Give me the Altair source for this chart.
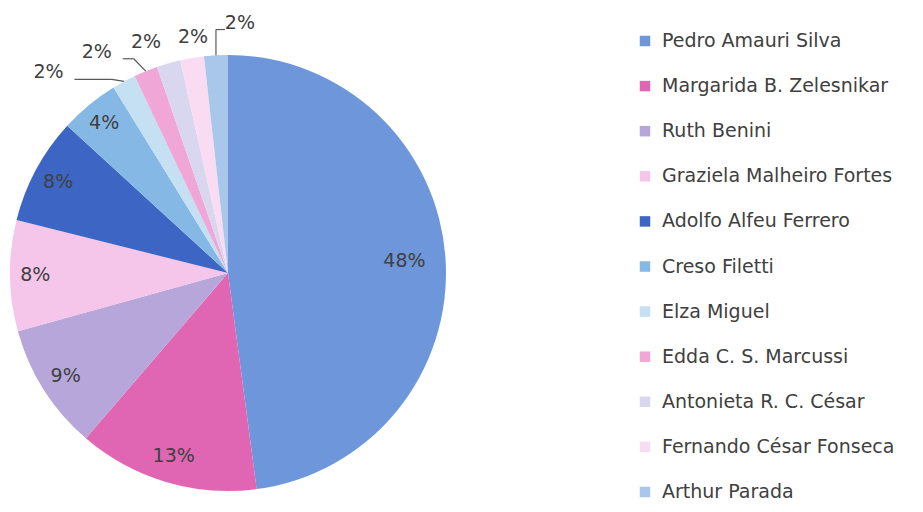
import altair as alt
import pandas as pd

names = [
    "Pedro Amauri Silva",
    "Margarida B. Zelesnikar",
    "Ruth Benini",
    "Graziela Malheiro Fortes",
    "Adolfo Alfeu Ferrero",
    "Creso Filetti",
    "Elza Miguel",
    "Edda C. S. Marcussi",
    "Antonieta R. C. César",
    "Fernando César Fonseca",
    "Arthur Parada",
]
values = [47.9, 13.4, 9.4, 8.2, 7.9, 4.4, 1.76, 1.76, 1.76, 1.76, 1.76]
colors = [
    "#6e96da", "#e066b4", "#b7a6da", "#f5c6ea", "#3d66c4", "#85b8e4",
    "#c4e0f2", "#f0a6d6", "#d9d6f0", "#fadcf2", "#a9c7ea",
]

df = pd.DataFrame({"name": names, "value": values, "order": list(range(len(names)))})

W, H = 907, 496
CX, CY, R = 220, 265, 218
FONT = "DejaVu Sans"
TXT = "#404040"

color_enc = alt.Color("name:N", scale=alt.Scale(domain=names, range=colors), legend=None)

pie = alt.Chart(df).mark_arc(outerRadius=R, x=CX, y=CY).encode(
    theta=alt.Theta("value:Q", stack=True),
    color=color_enc,
    order=alt.Order("order:Q"),
)

geo = (
    alt.Chart(df)
    .transform_window(cum="sum(value)", idx="row_number()", sort=[alt.SortField("order")])
    .transform_joinaggregate(total="sum(value)")
    .transform_calculate(
        mid="(datum.cum - datum.value/2)/datum.total*2*PI",
        shiftdeg="datum.value < 3 ? (-13.3 + 4.8*(datum.idx-7)) : 0",
    )
    .transform_calculate(
        la="datum.mid + datum.shiftdeg*PI/180",
        lr="datum.value < 3 ? 236 + 2.5*abs(datum.shiftdeg) : 196 - 0.4*datum.value",
        label="format(datum.value/datum.total, '.0%')",
    )
    .transform_calculate(
        lx=f"{CX} + datum.lr*sin(datum.la)",
        ly=f"{CY} - datum.lr*cos(datum.la)",
        ex=f"{CX} + {R}*sin(datum.mid)",
        ey=f"{CY} - {R}*cos(datum.mid)",
        s="sin(datum.la) < 0 ? -1 : 1",
    )
)

labels = geo.mark_text(font=FONT, fontSize=19, color=TXT, baseline="middle", align="center").encode(
    x=alt.X("lx:Q", scale=None, axis=None),
    y=alt.Y("ly:Q", scale=None, axis=None),
    text="label:N",
)

lead = geo.transform_filter("abs(datum.shiftdeg) > 5").transform_calculate(
    bx="datum.s < 0 ? datum.ex - 12 : datum.ex",
    by="datum.ly + 7",
    hx="datum.s < 0 ? datum.lx + 26 : datum.lx - 15",
)
lead1 = lead.mark_rule(color="#595959", strokeWidth=1.2).encode(
    x=alt.X("ex:Q", scale=None, axis=None),
    y=alt.Y("ey:Q", scale=None, axis=None),
    x2="bx:Q",
    y2="by:Q",
)
lead2 = lead.mark_rule(color="#595959", strokeWidth=1.2).encode(
    x=alt.X("bx:Q", scale=None, axis=None),
    y=alt.Y("by:Q", scale=None, axis=None),
    x2="hx:Q",
    y2="by:Q",
)

ly_enc = alt.Y("name:N", scale=alt.Scale(type="point", domain=names, range=[33, 484], padding=0), axis=None)
leg_sym = alt.Chart(df).mark_square(size=110, x=637, opacity=1).encode(y=ly_enc, color=color_enc)
leg_txt = alt.Chart(df).mark_text(x=654, align="left", baseline="middle", font=FONT, fontSize=19, color=TXT).encode(
    y=ly_enc, text="name:N"
)

chart = (
    alt.layer(pie, labels, lead1, lead2, leg_sym, leg_txt)
    .resolve_scale(x="independent", y="independent")
    .properties(width=W, height=H, autosize=alt.AutoSizeParams(type="none"), padding=0)
    .configure_view(stroke=None)
)

chart.save("out.html", embed_options={"renderer": "svg", "actions": False})
